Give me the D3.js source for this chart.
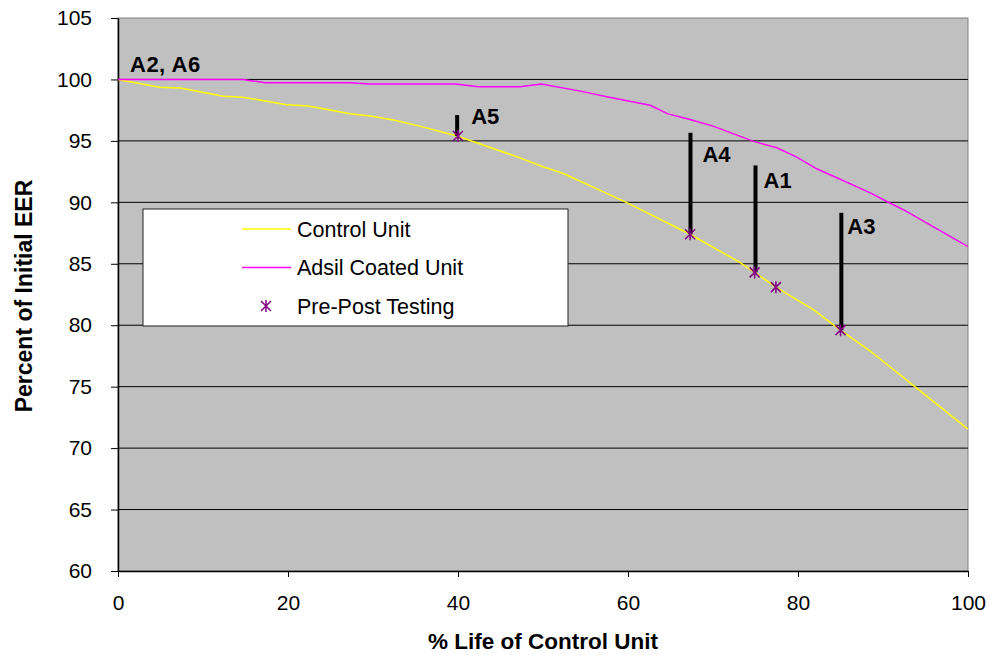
<!DOCTYPE html>
<html>
<head>
<meta charset="utf-8">
<script src="https://cdn.jsdelivr.net/npm/d3@7"></script>
<style>
  body { margin: 0; background: #fff; }
  text { font-family: Arial, "Liberation Sans", sans-serif; }
</style>
</head>
<body>
<script>
// Control unit curve (% life, percent of initial EER)
var controlLife = [0, 4.9, 7.3, 12.4, 14.7, 19.8, 22.4, 27.3, 29.9, 32.4, 35.5, 39.9, 44.9, 47.3, 50.0, 52.4, 59.8, 67.3, 73.2, 74.9, 77.4, 81.8, 85.0, 88.5, 93.6, 100];
var controlEER = [100, 99.37, 99.3, 98.64, 98.56, 97.94, 97.83, 97.2, 97.0, 96.7, 96.2, 95.4, 94.2, 93.62, 92.89, 92.35, 90.0, 87.4, 85.1, 84.3, 83.1, 81.27, 79.6, 77.9, 75.08, 71.55];

// Adsil coated unit curve
var adsilLife = [0, 14.7, 17.3, 27.3, 29.6, 39.7, 42.4, 47.3, 49.8, 54.4, 57.5, 62.6, 64.7, 67.3, 70.0, 74.7, 77.5, 79.8, 82.2, 84.9, 88.5, 90.4, 92.4, 100];
var adsilEER = [100, 100, 99.73, 99.73, 99.62, 99.62, 99.4, 99.4, 99.62, 99.05, 98.6, 97.9, 97.2, 96.74, 96.2, 94.98, 94.44, 93.7, 92.73, 91.9, 90.77, 90.09, 89.4, 86.4];

// Pre-post testing points
var testLife = [40, 67.3, 74.9, 77.4, 85.0];
var testEER = [95.4, 87.4, 84.3, 83.1, 79.6];

// Labelled bars (bottom on the control curve, top value)
var barNames = ["A5", "A4", "A1", "A3"];
var barLife = [39.9, 67.35, 75.0, 85.1];
var barBottom = [95.4, 87.4, 84.3, 79.6];
var barTop = [97.1, 95.66, 93.0, 89.15];

var xTicks = [0, 20, 40, 60, 80, 100];
var yTicks = [60, 65, 70, 75, 80, 85, 90, 95, 100, 105];

var width = 990,
    height = 655,
    plotLeft = 118, plotRight = 968, plotTop = 18, plotBottom = 571;

var svg = d3.select("body")
    .append("svg")
    .attr("width", width)
    .attr("height", height);

var x = d3.scaleLinear().domain([0, 100]).range([plotLeft, plotRight]);
var y = d3.scaleLinear().domain([60, 105]).range([plotBottom, plotTop]);

// plot background
svg.append("rect")
    .attr("x", plotLeft).attr("y", plotTop)
    .attr("width", plotRight - plotLeft).attr("height", plotBottom - plotTop)
    .attr("fill", "#c0c0c0")
    .attr("stroke", "#808080")
    .attr("stroke-width", 1);

// gridlines
svg.append("g").selectAll("line")
    .data(yTicks.slice(1, -1))
    .enter().append("line")
    .attr("x1", plotLeft).attr("x2", plotRight)
    .attr("y1", function(d) { return y(d); })
    .attr("y2", function(d) { return y(d); })
    .attr("stroke", "#000")
    .attr("stroke-width", 1);

// axes
var yAxis = svg.append("g")
    .attr("transform", "translate(" + plotLeft + ",0)")
    .call(d3.axisLeft(y).tickValues(yTicks).tickSize(7).tickPadding(19).tickSizeOuter(0));
var xAxis = svg.append("g")
    .attr("transform", "translate(0," + plotBottom + ")")
    .call(d3.axisBottom(x).tickValues(xTicks).tickSize(6).tickPadding(18).tickSizeOuter(0));

[yAxis, xAxis].forEach(function(a) {
    a.select(".domain").attr("stroke", "#000").attr("stroke-width", 1.5);
    a.selectAll(".tick line").attr("stroke", "#000");
    a.selectAll("text").attr("font-size", 21).attr("fill", "#000")
        .style("font-family", "Arial, 'Liberation Sans', sans-serif");
});

// curves
var line = d3.line()
    .x(function(d) { return x(d[0]); })
    .y(function(d) { return y(d[1]); });

svg.append("path")
    .datum(d3.zip(controlLife, controlEER))
    .attr("d", line)
    .attr("fill", "none")
    .attr("stroke", "#ffff00")
    .attr("stroke-width", 1.5);

svg.append("path")
    .datum(d3.zip(adsilLife, adsilEER))
    .attr("d", line)
    .attr("fill", "none")
    .attr("stroke", "#ff00ff")
    .attr("stroke-width", 1.5);

// bars
svg.append("g").selectAll("line")
    .data(d3.range(barNames.length))
    .enter().append("line")
    .attr("x1", function(i) { return x(barLife[i]); })
    .attr("x2", function(i) { return x(barLife[i]); })
    .attr("y1", function(i) { return y(barBottom[i]); })
    .attr("y2", function(i) { return y(barTop[i]); })
    .attr("stroke", "#000")
    .attr("stroke-width", 4);

// asterisk markers
function star(g, cx, cy, r) {
    g.append("path")
        .attr("d", "M" + (cx - r) + "," + (cy - r) + "L" + (cx + r) + "," + (cy + r) +
            "M" + (cx - r) + "," + (cy + r) + "L" + (cx + r) + "," + (cy - r) +
            "M" + cx + "," + (cy - r - 1) + "L" + cx + "," + (cy + r + 1))
        .attr("stroke", "#800080")
        .attr("stroke-width", 1.5)
        .attr("fill", "none");
}
var marks = svg.append("g");
testLife.forEach(function(d, i) {
    star(marks, x(d), y(testEER[i]), 5);
});

// bar labels
var labelDx = [14, 12, 8, 6];
var labelDy = [9, 29, 23, 21];
svg.append("g").selectAll("text")
    .data(d3.range(barNames.length))
    .enter().append("text")
    .attr("x", function(i) { return x(barLife[i]) + labelDx[i]; })
    .attr("y", function(i) { return y(barTop[i]) + labelDy[i]; })
    .attr("font-size", 22)
    .attr("font-weight", "bold")
    .text(function(i) { return barNames[i]; });

svg.append("text")
    .attr("x", 130).attr("y", 72)
    .attr("font-size", 22)
    .attr("font-weight", "bold")
    .attr("letter-spacing", 0.5)
    .text("A2, A6");

// legend
var legend = svg.append("g");
legend.append("rect")
    .attr("x", 143).attr("y", 209)
    .attr("width", 425).attr("height", 117)
    .attr("fill", "#fff")
    .attr("stroke", "#222")
    .attr("stroke-width", 1);
var legendNames = ["Control Unit", "Adsil Coated Unit", "Pre-Post Testing"];
var legendColors = ["#ffff00", "#ff00ff", null];
legendNames.forEach(function(n, i) {
    var ly = 229 + i * 38.5;
    if (legendColors[i]) {
        legend.append("line")
            .attr("x1", 242).attr("x2", 291)
            .attr("y1", ly).attr("y2", ly)
            .attr("stroke", legendColors[i])
            .attr("stroke-width", 1.5);
    } else {
        star(legend, 266, ly, 5);
    }
    legend.append("text")
        .attr("x", 297).attr("y", ly + 7.5)
        .attr("font-size", 21.5)
        .text(n);
});

// axis titles
svg.append("text")
    .attr("x", (plotLeft + plotRight) / 2).attr("y", 649)
    .attr("text-anchor", "middle")
    .attr("font-size", 22.5)
    .attr("font-weight", "bold")
    .text("% Life of Control Unit");

svg.append("text")
    .attr("transform", "translate(32,296) rotate(-90)")
    .attr("text-anchor", "middle")
    .attr("font-size", 23)
    .attr("font-weight", "bold")
    .text("Percent of Initial EER");
</script>
</body>
</html>
